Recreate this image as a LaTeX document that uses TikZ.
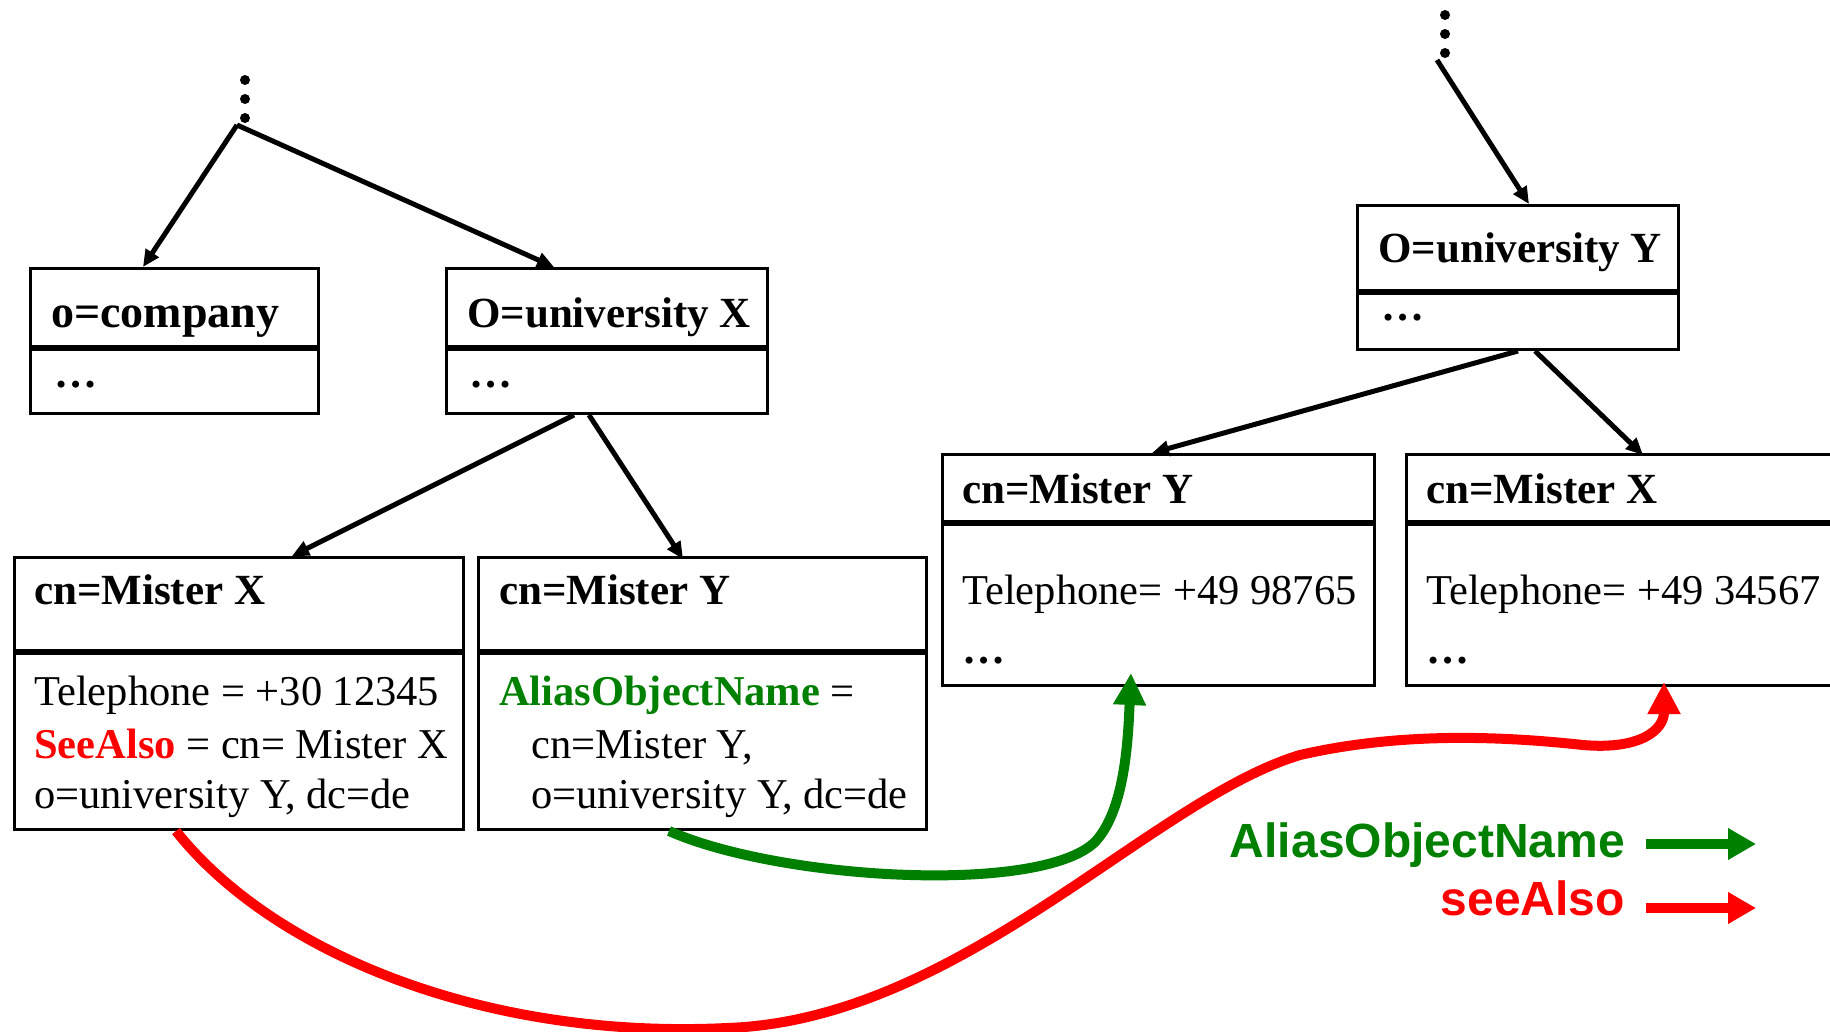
\documentclass[tikz,border=0pt]{standalone}
\usepackage{fontspec}
\setmainfont{Liberation Serif}
\newfontfamily\legendfont{Liberation Sans}
\usetikzlibrary{arrows.meta,calc}
\definecolor{aliasgreen}{RGB}{0,128,0}
\definecolor{seered}{RGB}{255,0,0}

\begin{document}
\begin{tikzpicture}[x=1pt,y=1pt,
  entry/.style={draw, line width=3pt, inner sep=0pt, anchor=north west},
  divider/.style={line width=6pt},
  head/.style={anchor=base west, inner sep=0pt, font=\fontsize{43}{51}\selectfont\bfseries},
  body/.style={anchor=base west, inner sep=0pt, font=\fontsize{42.5}{51}\selectfont},
  vdot/.style={fill=black, draw=none, circle, inner sep=0pt, minimum size=10pt},
  tree/.style={line width=5pt, -{Triangle[length=17pt,width=15pt]}},
  link/.style={line width=10pt, -{Triangle[length=32pt,width=31pt]}},
  legtext/.style={anchor=base east, inner sep=0pt, font=\legendfont\fontsize{48}{56}\selectfont\bfseries},
  legarrow/.style={line width=10pt, -{Triangle[length=28pt,width=30pt]}}
]
\useasboundingbox (0,0) rectangle (1830,-1032);

% ---------- left tree ----------
\node[vdot] (dl1) at (245,-80) {};
\node[vdot] (dl2) at (245,-99) {};
\node[vdot] (dl3) at (245,-118) {};
\coordinate (topL) at (237,-125);

\node[entry, minimum width=288pt, minimum height=145pt] (company) at (29,-267) {};
\draw[divider] ([yshift=-81pt]company.north west) -- ([yshift=-81pt]company.north east);
\node[head, font=\fontsize{46}{51}\selectfont\bfseries] (companyH) at (51,-327) {o=company};
\node[head] (companyD) at (54,-387) {\ldots};

\node[entry, minimum width=321pt, minimum height=145pt] (univX) at (445,-267) {};
\draw[divider] ([yshift=-81pt]univX.north west) -- ([yshift=-81pt]univX.north east);
\node[head] (univXH) at (467,-327) {O=university X};
\node[head] (univXD) at (469,-387) {\ldots};

\node[entry, minimum width=449pt, minimum height=272pt] (mx) at (13,-556) {};
\draw[divider] ([yshift=-96pt]mx.north west) -- ([yshift=-96pt]mx.north east);
\node[head] (mxH) at (34,-604) {cn=Mister X};
\node[body] (mxL1) at (34,-705) {Telephone = +30 12345};
\node[body] (mxL2) at (34,-758) {\textcolor{seered}{\bfseries SeeAlso} = cn= Mister X};
\node[body] (mxL3) at (34,-808) {o=university Y, dc=de};

\node[entry, minimum width=448pt, minimum height=272pt] (my) at (477,-556) {};
\draw[divider] ([yshift=-96pt]my.north west) -- ([yshift=-96pt]my.north east);
\node[head] (myH) at (499,-604) {cn=Mister Y};
\node[body] (myL1) at (499,-705) {\textcolor{aliasgreen}{\bfseries AliasObjectName} =};
\node[body] (myL2) at (531,-758) {cn=Mister Y,};
\node[body] (myL3) at (531,-808) {o=university Y, dc=de};

\draw[tree] (topL) -- ([xshift=114pt]company.north west);
\draw[tree] (topL) -- ([xshift=109pt]univX.north west);
\draw[tree] ([xshift=129pt]univX.south west) -- ([xshift=279pt]mx.north west);
\draw[tree] ([xshift=144pt]univX.south west) -- ([xshift=206pt,yshift=-3pt]my.north west);

% ---------- right tree ----------
\node[vdot] (dr1) at (1445,-15) {};
\node[vdot] (dr2) at (1445,-34) {};
\node[vdot] (dr3) at (1445,-53) {};
\coordinate (topR) at (1437,-60);

\node[entry, minimum width=321pt, minimum height=144pt] (univY) at (1356,-204) {};
\draw[divider] ([yshift=-88pt]univY.north west) -- ([yshift=-88pt]univY.north east);
\node[head] (univYH) at (1378,-262) {O=university Y};
\node[head] (univYD) at (1381,-320) {\ldots};

\node[entry, minimum width=432pt, minimum height=231pt] (myr) at (941,-453) {};
\draw[divider] ([yshift=-70pt]myr.north west) -- ([yshift=-70pt]myr.north east);
\node[head] (myrH) at (962,-503) {cn=Mister Y};
\node[body] (myrL1) at (962,-604) {Telephone= +49 98765};
\node[head] (myrD) at (962,-663) {\ldots};

\node[entry, minimum width=445pt, minimum height=231pt] (mxr) at (1405,-453) {};
\draw[divider] ([yshift=-70pt]mxr.north west) -- ([yshift=-70pt]mxr.north east);
\node[head] (mxrH) at (1426,-503) {cn=Mister X};
\node[body] (mxrL1) at (1426,-604) {Telephone= +49 34567};
\node[head] (mxrD) at (1426,-663) {\ldots};

\draw[tree] (topR) -- ([xshift=173pt]univY.north west);
\draw[tree] ([xshift=162pt]univY.south west) -- ([xshift=211pt]myr.north west);
\draw[tree] ([xshift=179pt]univY.south west) -- ([xshift=238pt,yshift=-2pt]mxr.north west);

% ---------- reference links ----------
\draw[link, aliasgreen] ([xshift=192pt]my.south west)
  .. controls (780,-880) and (1040,-895) .. (1095,-842)
  .. controls (1125,-810) and (1128,-740) .. ([xshift=190pt,yshift=14pt]myr.south west);

\draw[link, seered] ([xshift=163pt]mx.south west)
  .. controls (270,-950) and (480,-1040) .. (727,-1028)
  .. controls (960,-1020) and (1150,-800) .. (1300,-755)
  .. controls (1400,-732) and (1500,-736) .. (1583,-745)
  .. controls (1640,-750) and (1664,-730) .. ([xshift=259pt,yshift=5pt]mxr.south west);

% ---------- legend ----------
\node[legtext, text=aliasgreen] (legAlias) at (1625,-857) {AliasObjectName};
\node[legtext, text=seered] (legSee) at (1625,-915) {seeAlso};
\coordinate (ga1) at (1646,-844);
\coordinate (ga2) at (1756,-844);
\coordinate (ra1) at (1646,-908);
\coordinate (ra2) at (1756,-908);
\draw[legarrow, aliasgreen] (ga1) -- (ga2);
\draw[legarrow, seered] (ra1) -- (ra2);
\end{tikzpicture}
\end{document}
